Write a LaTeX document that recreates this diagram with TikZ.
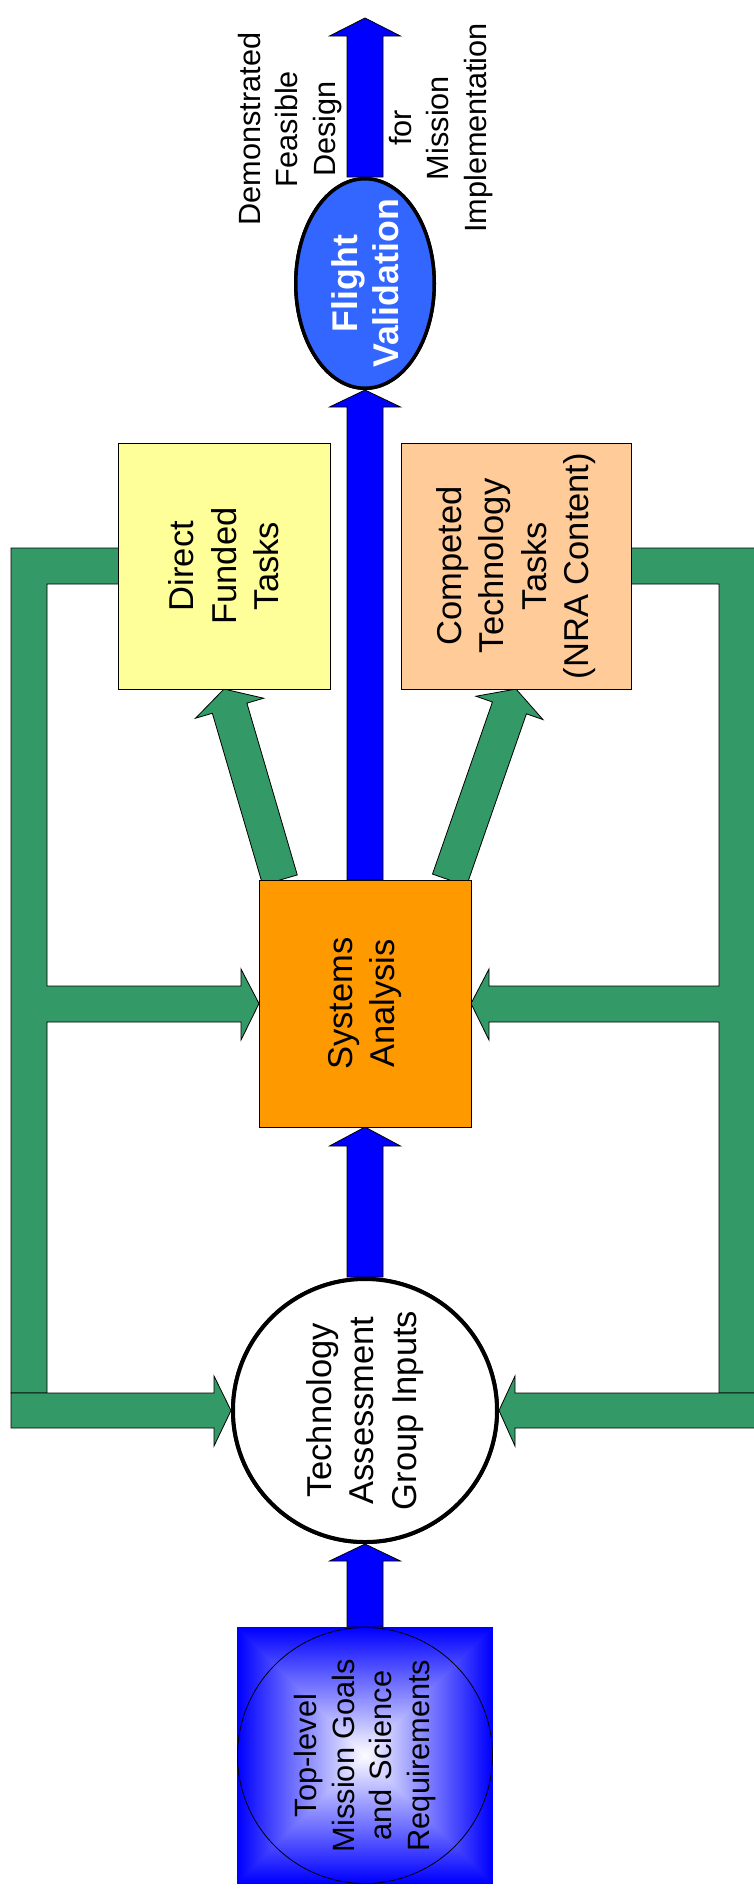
\documentclass[tikz,border=0pt]{standalone}
\usepackage{fontspec}
\setmainfont{Liberation Sans}
\usetikzlibrary{calc,shapes.geometric}
\definecolor{fgreen}{RGB}{51,153,102}
\definecolor{fvblue}{RGB}{51,102,255}
\definecolor{dyellow}{RGB}{255,255,153}
\definecolor{corange}{RGB}{255,204,153}
\definecolor{sorange}{RGB}{255,153,0}
\definecolor{pblue}{RGB}{0,0,255}
% block arrow: style, from, to, shaft half width, head half width, head length
\newcommand\blockarrow[6]{%
  \path[#1] let \p1=(#2), \p2=(#3),
      \n1={atan2(\y2-\y1,\x2-\x1)}, \n2={veclen(\x2-\x1,\y2-\y1)} in
      [shift={(\x1,\y1)}, rotate=\n1]
      (0pt,{-#4*1pt}) -- ({(\n2-#6)*1pt},{-#4*1pt}) -- ({(\n2-#6)*1pt},{-#5*1pt})
      -- ({\n2*1pt},0pt) -- ({(\n2-#6)*1pt},{#5*1pt}) -- ({(\n2-#6)*1pt},{#4*1pt})
      -- (0pt,{#4*1pt}) -- cycle;}
\tikzset{
  box/.style={rectangle, draw=black, line width=0.9pt, inner sep=0pt, outer sep=0pt},
  greenshape/.style={fill=fgreen, draw=black, line width=0.8pt, line join=miter},
  bluearrow/.style={fill=pblue, draw=black, line width=0.8pt},
  greenarrow/.style={fill=fgreen, draw=black, line width=0.8pt},
  vt/.style={rotate=90, align=center, inner sep=0pt, font=\fontsize{34.5}{42.5}\selectfont},
  vtnote/.style={rotate=90, align=center, inner sep=0pt, font=\fontsize{30.7}{37.5}\selectfont},
  vttop/.style={rotate=90, align=center, inner sep=0pt, font=\fontsize{30.8}{37.7}\selectfont},
  vtfv/.style={rotate=90, align=center, inner sep=0pt, text=white, font=\fontsize{35.7}{41}\selectfont\bfseries},
}
\begin{document}
\begin{tikzpicture}[x=1pt, y=-1pt]
\useasboundingbox (0,0) rectangle (753,1891);

% ---- nodes (shapes) ----
\node[box, fill=dyellow, minimum width=212pt, minimum height=246pt] (dft) at (224,566) {};
\node[box, fill=corange, minimum width=230pt, minimum height=246pt] (ctt) at (516,566) {};
\node[box, fill=sorange, minimum width=212pt, minimum height=247pt] (sa) at (365,1003.5) {};
\node[ellipse, draw=black, line width=3.5pt, fill=fvblue, inner sep=0pt,
      minimum width=138.5pt, minimum height=209.5pt] (fv) at (365,283.5) {};
\node[ellipse, draw=black, line width=4pt, fill=white, inner sep=0pt,
      minimum width=264pt, minimum height=263pt] (tag) at (365,1410.5) {};
\node[rectangle, inner sep=0pt, outer sep=0pt, minimum width=256pt, minimum height=257pt] (tl) at (365,1755.5) {};
\coordinate (toptip) at (365,18);
\coordinate (dl) at ($(sa.north)+(-85,0)$);
\coordinate (dr) at ($(sa.north)+(84.5,0)$);

% ---- green frame ----
\draw[greenshape] (120,548) -- (11,548) -- (11,1393) -- (47,1393) -- (47,1022)
  -- (241,1022) -- (241,1040) -- (sa.west) -- (241,969) -- (241,986) -- (47,986)
  -- (47,584) -- (120,584) -- cycle;
\draw[greenshape] (11,1393) -- (214,1393) -- (214,1376) -- (tag.west) -- (214,1446)
  -- (214,1428) -- (11,1428) -- cycle;
\draw[greenshape] (629,548) -- (756,548) -- (756,1393) -- (719,1393) -- (719,1022)
  -- (489,1022) -- (489,1040) -- (sa.east) -- (489,969) -- (489,986) -- (719,986)
  -- (719,584) -- (629,584) -- cycle;
\draw[greenshape] (756,1393) -- (515,1393) -- (515,1376) -- (tag.east) -- (515,1446)
  -- (515,1428) -- (756,1428) -- cycle;

% ---- connectors ----
\blockarrow{greenarrow}{dl}{dft.south}{18}{35.5}{20}
\blockarrow{greenarrow}{dr}{ctt.south}{18}{35.5}{20}
\blockarrow{bluearrow}{fv.north}{toptip}{18}{35.5}{18}
\blockarrow{bluearrow}{sa.north}{fv.south}{18}{35.5}{17}
\blockarrow{bluearrow}{tag.north}{sa.south}{18}{35.5}{19}
\blockarrow{bluearrow}{tl.north}{tag.south}{18}{35.5}{17}

% redraw shapes on top of arrow bases
\node[box, fill=dyellow, minimum width=212pt, minimum height=246pt] (dftb) at (dft) {};
\node[box, fill=corange, minimum width=230pt, minimum height=246pt] (cttb) at (ctt) {};
\node[box, fill=sorange, minimum width=212pt, minimum height=247pt] (sab) at (sa) {};
\node[ellipse, draw=black, line width=3.5pt, fill=fvblue, inner sep=0pt,
      minimum width=138.5pt, minimum height=209.5pt] (fvb) at (fv) {};
\node[ellipse, draw=black, line width=4pt, fill=white, inner sep=0pt,
      minimum width=264pt, minimum height=263pt] (tagb) at (tag) {};

% ---- top-level box with stepped rectangular gradient ----
\foreach \i in {0,...,63}{
  \pgfmathsetmacro\tt{\i/64}
  \pgfmathsetmacro\pp{100*(1-\tt)}
  \fill[pblue!\pp!white] ({237+128*\tt},{1627+128.5*\tt}) rectangle ({493-128*\tt},{1884-128.5*\tt});
}
\node[ellipse, draw=black, line width=0.8pt, inner sep=0pt,
      minimum width=255pt, minimum height=256pt] (tle) at (tl.center) {};

% ---- texts ----
\node[vtnote] (demo) at (290,129) {Demonstrated\\Feasible\\Design};
\node[vtnote] (fmi) at (441,128) {for\\Mission\\Implementation};
\node[vtfv] (fvt) at (fv.center) {Flight\\Validation};
\node[vt] (dftt) at (dft.center) {Direct\\Funded\\Tasks};
\node[vt] (cttt) at (ctt.center) {Competed\\Technology\\Tasks\\(NRA Content)};
\node[vt] (sat) at (sa.center) {Systems\\Analysis};
\node[vt] (tagt) at (tag.center) {Technology\\Assessment\\Group Inputs};
\node[vttop] (tlt) at (tl.center) {Top-level\\Mission Goals\\and Science\\Requirements};
\end{tikzpicture}
\end{document}
